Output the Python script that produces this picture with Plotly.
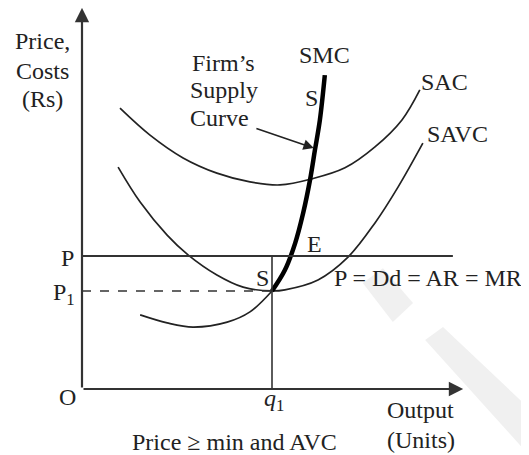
import plotly.graph_objects as go

# ---- data (economic units: output on x, price/cost on y) ----
sac_x = [1.0, 1.79, 2.66, 3.55, 4.42, 5.21, 6.05, 6.92, 7.71, 8.42, 8.89]
sac_y = [7.39, 6.68, 6.08, 5.68, 5.45, 5.37, 5.53, 5.82, 6.37, 7.08, 7.87]

savc_x = [0.95, 1.53, 2.24, 2.79, 3.55, 4.24, 5.0, 5.34, 6.21, 7.0, 7.71, 8.32, 8.97]
savc_y = [5.84, 4.92, 4.05, 3.53, 3.0, 2.68, 2.58, 2.61, 2.87, 3.47, 4.37, 5.32, 6.47]

smc_low_x = [1.53, 2.24, 2.92, 3.82, 4.42, 5.0]
smc_low_y = [1.95, 1.74, 1.63, 1.76, 2.03, 2.58]

supply_x = [5.0, 5.34, 5.61, 5.82, 6.0, 6.13, 6.26, 6.39]
supply_y = [2.58, 3.13, 3.84, 4.63, 5.5, 6.29, 7.08, 8.26]

pointer_x = [4.55, 6.1]
pointer_y = [6.87, 6.34]

price_P = 3.5
price_P1 = 2.58
q1 = 5.0
price_line_end = 9.76
axis_max = 10.03

INK = "#222222"
AX = "#333333"
FONT = "Liberation Serif, Times New Roman, serif"

fig = go.Figure()

# faint watermark
fig.add_shape(type="path", xref="paper", yref="paper", layer="below",
              path="M 0.903 0.129 L 0.95 0.163 L 1.25 -0.12 L 1.2 -0.2 Z",
              fillcolor="#f0f0f0", line=dict(width=0))
fig.add_shape(type="path", xref="paper", yref="paper", layer="below",
              path="M 0.739 0.279 L 0.792 0.318 L 0.871 0.226 L 0.818 0.176 Z",
              fillcolor="#f0f0f0", line=dict(width=0))

fig.add_trace(go.Scatter(x=sac_x, y=sac_y, mode="lines", line=dict(color=INK, width=1.7, shape="spline")))
fig.add_trace(go.Scatter(x=savc_x, y=savc_y, mode="lines", line=dict(color=INK, width=1.7, shape="spline")))
fig.add_trace(go.Scatter(x=smc_low_x, y=smc_low_y, mode="lines", line=dict(color=INK, width=1.7, shape="spline")))
fig.add_trace(go.Scatter(x=supply_x, y=supply_y, mode="lines", line=dict(color="#000000", width=4.5, shape="spline")))

# price lines
fig.add_trace(go.Scatter(x=[0, price_line_end], y=[price_P, price_P], mode="lines", line=dict(color=AX, width=2)))
fig.add_trace(go.Scatter(x=[0, q1], y=[price_P1, price_P1], mode="lines", line=dict(color=AX, width=1.6, dash="dash")))
fig.add_trace(go.Scatter(x=[q1, q1], y=[0, price_P], mode="lines", line=dict(color=AX, width=1.6)))

# axes with arrows
for (hx, hy) in [(0, axis_max), (axis_max, 0)]:
    fig.add_annotation(x=hx, y=hy, ax=0, ay=0, xref="x", yref="y", axref="x", ayref="y",
                       text="", showarrow=True, arrowhead=2, arrowsize=1.3, arrowwidth=2.2,
                       arrowcolor=AX)

# supply curve pointer
fig.add_annotation(x=pointer_x[1], y=pointer_y[1], ax=pointer_x[0], ay=pointer_y[0],
                   xref="x", yref="y", axref="x", ayref="y",
                   text="", showarrow=True, arrowhead=2, arrowsize=1.3, arrowwidth=1.6,
                   arrowcolor=INK)

# text labels (positions in data units, converted to paper below)
labels = [
    ("Price,", -1.05, 9.16, "center"),
    ("Costs", -1.03, 8.37, "center"),
    ("(Rs)", -1.03, 7.63, "center"),
    ("Firm’s", 2.84, 8.57, "left"),
    ("Supply", 2.79, 7.86, "left"),
    ("Curve", 2.79, 7.14, "left"),
    ("SMC", 6.39, 8.78, "center"),
    ("S", 6.03, 7.67, "center"),
    ("SAC", 9.53, 8.07, "center"),
    ("SAVC", 9.87, 6.72, "center"),
    ("E", 6.12, 3.82, "center"),
    ("S", 4.76, 2.92, "center"),
    ("P = Dd = AR = MR", 6.58, 2.91, "left"),
    ("P", -0.39, 3.46, "center"),
    ("P<sub>1</sub>", -0.47, 2.5, "center"),
    ("O", -0.39, -0.2, "center"),
    ("<i>q</i><sub>1</sub>", 5.05, -0.28, "center"),
    ("Output", 8.92, -0.56, "center"),
    ("(Units)", 8.92, -1.34, "center"),
    ("Price ≥ min and AVC", 4.0, -1.39, "center"),
]
for text, x, y, anchor in labels:
    fig.add_annotation(x=x / 10, y=y / 10, xref="paper", yref="paper", text=text, showarrow=False,
                       xanchor=anchor, yanchor="middle", align=anchor,
                       font=dict(family=FONT, size=24, color=INK))

fig.update_layout(
    width=529, height=455,
    margin=dict(l=74, r=75, t=1, b=74),
    paper_bgcolor="white", plot_bgcolor="white",
    showlegend=False,
    xaxis=dict(range=[0, 10], visible=False, fixedrange=True),
    yaxis=dict(range=[0, 10], visible=False, fixedrange=True),
)

fig.write_html("out.html")
